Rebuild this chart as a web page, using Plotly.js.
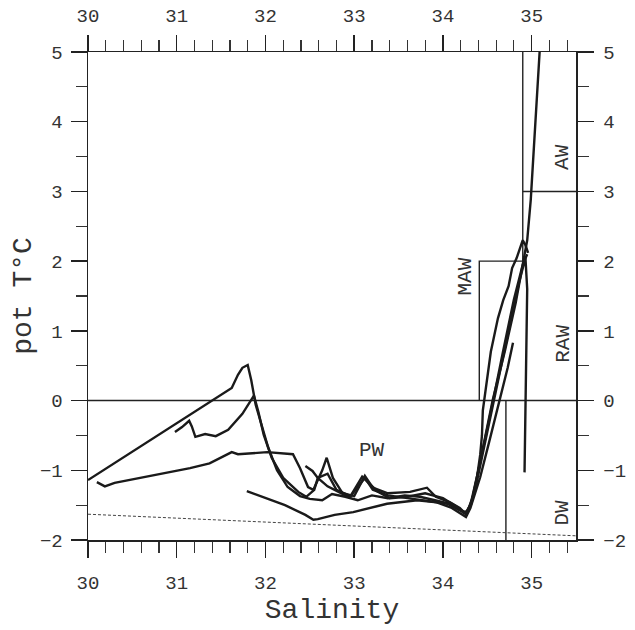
<!DOCTYPE html>
<html>
<head>
<meta charset="utf-8">
<script src="https://cdn.plot.ly/plotly-3.0.1.min.js"></script>
<style>body{margin:0;background:#fff}#chart{width:635px;height:630px}</style>
</head>
<body>
<div id="chart"></div>
<script>
// ---- profile data (Salinity, potential temperature) ----
const profA_S = [30.00,30.81,31.62,31.69,31.74,31.80,31.84,31.89,31.96,32.03,32.13,32.25,32.39,32.50,32.64,32.75,32.90,33.04,33.20,33.38,33.57,33.74,33.91,34.08,34.19,34.26,34.31,34.40,34.56,34.70,34.82,34.90,34.95,34.99,35.04,35.09];
const profA_T = [-1.14,-0.48,0.18,0.37,0.47,0.51,0.29,-0.06,-0.35,-0.67,-1.00,-1.24,-1.37,-1.41,-1.43,-1.34,-1.38,-1.43,-1.36,-1.40,-1.36,-1.38,-1.43,-1.48,-1.57,-1.60,-1.50,-1.00,0.00,0.72,1.40,1.93,2.30,2.88,4.02,5.00];

const profB_S = [30.98,31.06,31.14,31.17,31.21,31.32,31.44,31.58,31.74,31.87,31.92,31.98,32.07,32.20,32.37,32.46,32.55,32.59,32.70,32.80,32.96,33.12,33.21,33.38,33.60,33.85,34.05,34.20,34.27,34.32,34.42,34.55,34.68,34.80,34.90,34.95];
const profB_T = [-0.45,-0.38,-0.29,-0.37,-0.52,-0.48,-0.51,-0.42,-0.19,0.07,-0.16,-0.49,-0.82,-1.11,-1.31,-1.38,-1.28,-1.11,-1.05,-1.28,-1.37,-1.11,-1.28,-1.36,-1.40,-1.44,-1.48,-1.58,-1.62,-1.48,-0.90,-0.10,0.72,1.45,1.95,2.10];

const profC_S = [30.10,30.19,30.30,30.59,30.92,31.15,31.37,31.62,31.69,31.88,32.02,32.31,32.39,32.48,32.54,32.64,32.69,32.76,32.87,33.00,33.12,33.21,33.38,33.63,33.82,33.92,34.08,34.19,34.26,34.33,34.38,34.42,34.44,34.45,34.50,34.54,34.58,34.62,34.68,34.74,34.78,34.83,34.90,34.93,34.96];
const profC_T = [-1.17,-1.23,-1.18,-1.11,-1.03,-0.97,-0.90,-0.74,-0.77,-0.75,-0.74,-0.77,-0.97,-1.24,-1.28,-1.00,-0.82,-1.11,-1.33,-1.37,-1.08,-1.25,-1.33,-1.31,-1.25,-1.38,-1.46,-1.54,-1.63,-1.43,-1.14,-0.78,-0.50,-0.14,0.37,0.70,0.94,1.18,1.44,1.64,1.90,2.04,2.30,2.23,2.12];

const profD_S = [31.79,31.96,32.22,32.45,32.54,32.59,32.78,32.99,33.37,33.71,33.93,34.10,34.21,34.26,34.31,34.42,34.53,34.64,34.73,34.79];
const profD_T = [-1.30,-1.38,-1.50,-1.64,-1.71,-1.70,-1.64,-1.60,-1.48,-1.43,-1.46,-1.54,-1.63,-1.67,-1.54,-1.10,-0.55,0.00,0.47,0.83];

const profE_S = [32.45,32.53,32.59,32.70,32.84,32.95,33.09,33.17,33.26,33.40,33.60,33.80,34.00,34.15,34.24,34.28,34.36,34.50,34.62,34.74,34.86,34.93,34.95,34.94,34.93,34.92];
const profE_T = [-0.94,-1.01,-1.11,-1.23,-1.32,-1.39,-1.09,-1.19,-1.30,-1.40,-1.38,-1.33,-1.40,-1.52,-1.62,-1.58,-1.30,-0.45,0.30,1.00,1.70,2.05,1.60,0.60,-0.30,-1.03];

// ---- water mass boundaries ----
const zeroLine_S = [30.0,35.5];      const zeroLine_T = [0,0];
const mawBox_S = [34.41,34.41,34.9]; const mawBox_T = [0,2,2];
const awLeft_S = [34.9,34.9];        const awLeft_T = [2,5];
const awBottom_S = [34.9,35.5];      const awBottom_T = [3,3];
const dwLeft_S = [34.71,34.71];      const dwLeft_T = [0,-2];
const freeze_S = [30.0,35.5];        const freeze_T = [-1.63,-1.94];

// ---- labels ----
const labelText = ['PW','MAW','AW','RAW','DW'];
const labelS = [33.20,34.25,35.35,35.35,35.35];
const labelT = [-0.71,1.78,3.49,0.81,-1.61];
const labelAngle = [0,-90,-90,-90,-90];

const ink = '#1a1a1a';
const FONT = 'Liberation Mono, DejaVu Sans Mono, monospace';

function prof(S,T){return {x:S,y:T,mode:'lines',line:{color:ink,width:2.4},hoverinfo:'skip',showlegend:false};}
function bound(S,T,extra){return Object.assign({x:S,y:T,mode:'lines',line:{color:'#222',width:1.4},hoverinfo:'skip',showlegend:false},extra||{});}

const traces = [
  bound(zeroLine_S,zeroLine_T),
  bound(mawBox_S,mawBox_T),
  bound(awLeft_S,awLeft_T),
  bound(awBottom_S,awBottom_T),
  bound(dwLeft_S,dwLeft_T),
  bound(freeze_S,freeze_T,{line:{color:'#444',width:1,dash:'3px,2px'}}),
  prof(profA_S,profA_T),
  prof(profB_S,profB_T),
  prof(profC_S,profC_T),
  prof(profD_S,profD_T),
  prof(profE_S,profE_T),
  {x:[30],y:[-2],xaxis:'x2',yaxis:'y2',mode:'markers',marker:{opacity:0},hoverinfo:'skip',showlegend:false}
];

const annotations = labelText.map((t,i)=>({x:labelS[i],y:labelT[i],text:t,showarrow:false,textangle:labelAngle[i],
  font:{family:FONT,size:21,color:'#333'},xanchor:'center',yanchor:'middle'}));

const tickFont = {family:FONT,size:19,color:'#333'};
const commonX = {range:[30,35.5],tickvals:[30,31,32,33,34,35],ticks:'outside',ticklen:16,tickwidth:1.5,tickcolor:'#222',
  showline:true,linecolor:'#222',linewidth:1.5,showgrid:false,zeroline:false,tickfont:tickFont,
  minor:{tickvals:[30.2,30.4,30.6,30.8,31.2,31.4,31.6,31.8,32.2,32.4,32.6,32.8,33.2,33.4,33.6,33.8,34.2,34.4,34.6,34.8,35.2,35.4],ticks:'outside',ticklen:11,tickwidth:1.2,tickcolor:'#333',showgrid:false},
  fixedrange:true};
const commonY = {range:[-2,5],tickvals:[-2,-1,0,1,2,3,4,5],ticks:'outside',ticklen:16,tickwidth:1.5,tickcolor:'#222',
  showline:true,linecolor:'#222',linewidth:1.5,showgrid:false,zeroline:false,tickfont:tickFont,
  minor:{tickvals:[-1.5,-0.5,0.5,1.5,2.5,3.5,4.5],ticks:'outside',ticklen:11,tickwidth:1.2,tickcolor:'#333',showgrid:false},
  fixedrange:true};

const layout = {
  width:635,height:630,
  margin:{l:88,r:59,t:52,b:90},
  paper_bgcolor:'#fff',plot_bgcolor:'#fff',
  showlegend:false,
  xaxis:Object.assign({},commonX,{side:'bottom',ticklabelstandoff:9,
    title:{text:'Salinity',font:{family:FONT,size:28,color:'#333'},standoff:1}}),
  yaxis:Object.assign({},commonY,{side:'left',ticklabelstandoff:4,
    title:{text:'pot T°C',font:{family:FONT,size:28,color:'#333'},standoff:0}}),
  xaxis2:Object.assign({},commonX,{side:'top',overlaying:'x',anchor:'y2',ticklabelstandoff:5}),
  yaxis2:Object.assign({},commonY,{side:'right',overlaying:'y',anchor:'x2',ticklabelstandoff:6}),
  annotations:annotations
};

Plotly.newPlot('chart',traces,layout,{staticPlot:true,displayModeBar:false});
</script>
</body>
</html>
